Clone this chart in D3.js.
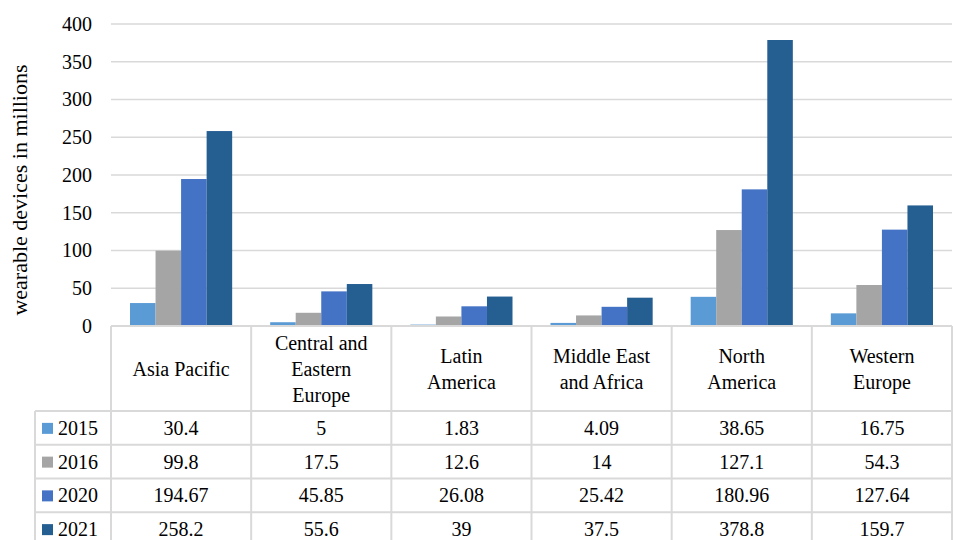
<!DOCTYPE html>
<html>
<head>
<meta charset="utf-8">
<script src="https://cdn.jsdelivr.net/npm/d3@7"></script>
<style>
  html, body { margin: 0; padding: 0; background: #fff; }
  svg { display: block; }
</style>
</head>
<body>
<svg id="chart" width="953" height="540"></svg>
<script>
// Regions shown along the x axis (header text, wrapped lines)
const categories = [
  ["Asia Pacific"],
  ["Central and", "Eastern", "Europe"],
  ["Latin", "America"],
  ["Middle East", "and Africa"],
  ["North", "America"],
  ["Western", "Europe"]
];
const seriesNames = ["2015", "2016", "2020", "2021"];
const seriesColors = ["#5b9bd5", "#a5a5a5", "#4472c4", "#255e91"];

// Wearable devices in millions, per region
const values2015 = [30.4, 5, 1.83, 4.09, 38.65, 16.75];
const values2016 = [99.8, 17.5, 12.6, 14, 127.1, 54.3];
const values2020 = [194.67, 45.85, 26.08, 25.42, 180.96, 127.64];
const values2021 = [258.2, 55.6, 39, 37.5, 378.8, 159.7];

// Display strings for the data table
const labels2015 = ["30.4", "5", "1.83", "4.09", "38.65", "16.75"];
const labels2016 = ["99.8", "17.5", "12.6", "14", "127.1", "54.3"];
const labels2020 = ["194.67", "45.85", "26.08", "25.42", "180.96", "127.64"];
const labels2021 = ["258.2", "55.6", "39", "37.5", "378.8", "159.7"];

const yTicks = [0, 50, 100, 150, 200, 250, 300, 350, 400];
const yTitle = "wearable devices in millions";

const seriesValues = [values2015, values2016, values2020, values2021];
const seriesLabels = [labels2015, labels2016, labels2020, labels2021];

const FONT = "'Liberation Serif', 'Times New Roman', Tinos, 'DejaVu Serif', serif";

const svg = d3.select("#chart").attr("font-family", FONT);
const plotLeft = 111, plotRight = 952, plotTop = 24, plotBottom = 326;
const tableLeft = 35, headerBottom = 411, rowH = 33.75;
const gridColor = "#d9d9d9";
const fontSize = 20;

const x = d3.scaleBand()
  .domain(d3.range(categories.length))
  .range([plotLeft, plotRight])
  .paddingInner(0)
  .paddingOuter(0);
const groupPad = 19;
const xs = d3.scaleBand()
  .domain(d3.range(seriesNames.length))
  .range([groupPad, x.bandwidth() - groupPad]);
const y = d3.scaleLinear().domain([0, 400]).range([plotBottom, plotTop]);

// Gridlines
svg.append("g").selectAll("line")
  .data(yTicks.filter(t => t > 0))
  .join("line")
  .attr("x1", plotLeft).attr("x2", plotRight)
  .attr("y1", d => y(d)).attr("y2", d => y(d))
  .attr("stroke", gridColor).attr("stroke-width", 1.3);

// Y axis tick labels
const yAxis = d3.axisLeft(y).tickValues(yTicks).tickSize(0).tickPadding(0);
const gy = svg.append("g").attr("transform", `translate(92,0)`).call(yAxis);
gy.attr("font-family", FONT).attr("font-size", fontSize);
gy.select(".domain").remove();
gy.selectAll("text")
  .attr("font-family", FONT)
  .attr("font-size", fontSize)
  .attr("fill", "#000");

// Y title
svg.append("text")
  .attr("transform", `translate(27,${(plotTop + plotBottom) / 2 + 15}) rotate(-90)`)
  .attr("text-anchor", "middle")
  .attr("font-family", FONT)
  .attr("font-size", 22)
  .text(yTitle);

// Bars
seriesValues.forEach((vals, si) => {
  svg.append("g").selectAll("rect")
    .data(vals)
    .join("rect")
    .attr("x", (d, i) => x(i) + xs(si))
    .attr("width", xs.bandwidth())
    .attr("y", d => y(d))
    .attr("height", d => y(0) - y(d))
    .attr("fill", seriesColors[si]);
});

// Data table
const table = svg.append("g").attr("font-family", FONT);
const tableBottom = headerBottom + rowH * seriesNames.length;
const lineAttrs = sel => sel.attr("stroke", gridColor).attr("stroke-width", 2);

// horizontal lines
table.append("line").attr("x1", plotLeft).attr("x2", plotRight)
  .attr("y1", plotBottom).attr("y2", plotBottom).call(lineAttrs);
d3.range(seriesNames.length + 1).forEach(r => {
  const yy = headerBottom + r * rowH;
  table.append("line").attr("x1", tableLeft).attr("x2", plotRight)
    .attr("y1", yy).attr("y2", yy).call(lineAttrs);
});
// vertical lines
d3.range(categories.length + 1).forEach(c => {
  const xx = c < categories.length ? x(c) : plotRight;
  table.append("line").attr("x1", xx).attr("x2", xx)
    .attr("y1", plotBottom).attr("y2", tableBottom).call(lineAttrs);
});
table.append("line").attr("x1", tableLeft).attr("x2", tableLeft)
  .attr("y1", headerBottom).attr("y2", tableBottom).call(lineAttrs);

// header labels
const lineH = 26;
categories.forEach((lines, i) => {
  const cy = (plotBottom + headerBottom) / 2;
  const startY = cy - (lines.length - 1) * lineH / 2;
  const t = table.append("text")
    .attr("text-anchor", "middle")
    .attr("font-size", fontSize);
  lines.forEach((ln, k) => {
    t.append("tspan")
      .attr("x", x(i) + x.bandwidth() / 2)
      .attr("y", startY + k * lineH)
      .attr("dy", "0.35em")
      .text(ln);
  });
});

// rows: legend key + values
seriesNames.forEach((name, si) => {
  const cy = headerBottom + si * rowH + rowH / 2;
  table.append("rect")
    .attr("x", 42).attr("y", cy - 5)
    .attr("width", 11).attr("height", 11)
    .attr("fill", seriesColors[si]);
  table.append("text")
    .attr("x", 58).attr("y", cy).attr("dy", "0.35em")
    .attr("font-size", fontSize)
    .text(name);
  seriesLabels[si].forEach((lab, i) => {
    table.append("text")
      .attr("x", x(i) + x.bandwidth() / 2)
      .attr("y", cy).attr("dy", "0.35em")
      .attr("text-anchor", "middle")
      .attr("font-size", fontSize)
      .text(lab);
  });
});
</script>
</body>
</html>
